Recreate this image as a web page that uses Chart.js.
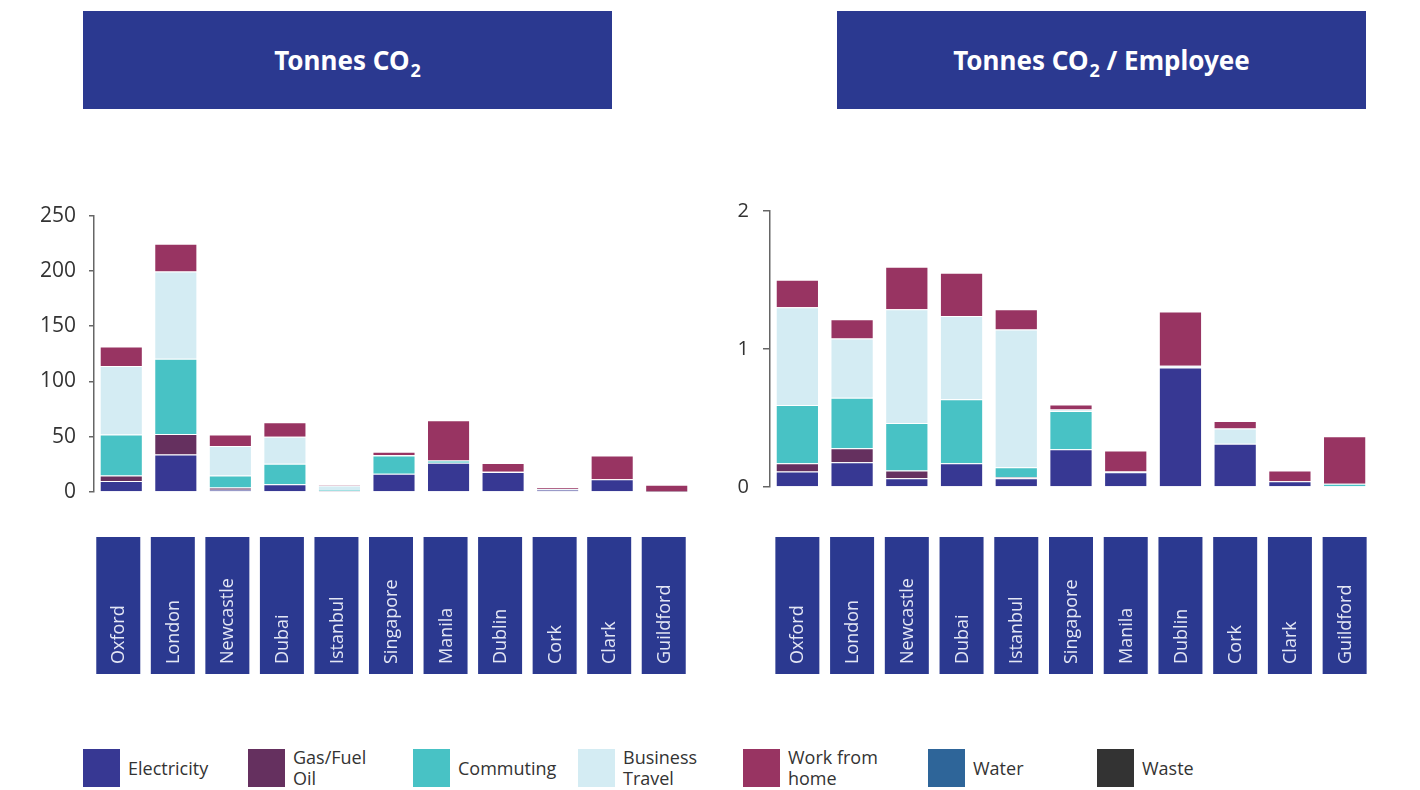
<!DOCTYPE html>
<html>
<head>
<meta charset="utf-8">
<script src="https://cdn.jsdelivr.net/npm/chart.js@4"></script>
<style>
  body { margin: 0; background: #fff; width: 1420px; height: 790px; position: relative; overflow: hidden; font-family: "Open Sans", sans-serif; }
  .title { position: absolute; top: 11px; height: 98px; width: 529px; background: #2B3990; color: #fff;
           font-family: "Noto Sans", sans-serif; font-weight: bold; font-size: 26px; display: flex; align-items: center; justify-content: center; white-space: pre; }
  .title .sub { font-size: 18px; position: relative; top: 10px; margin-left: 1px; }
  canvas { position: absolute; }
  .leg { position: absolute; top: 749px; height: 38px; }
  .leg .sw { position: absolute; left: 0; top: 0; width: 37px; height: 38px; }
  .leg .tx { position: absolute; left: 45px; top: 0; height: 38px; display: flex; align-items: center;
             font-size: 18px; line-height: 21px; color: #333; white-space: nowrap; }
</style>
</head>
<body>
<div class="title" style="left:83px">Tonnes CO<span class="sub">2</span></div>
<div class="title" style="left:837px">Tonnes CO<span class="sub">2</span> / Employee</div>
<canvas id="totalChart" width="710" height="490" style="left:0; top:190px"></canvas>
<canvas id="perEmpChart" width="710" height="490" style="left:710px; top:185px"></canvas>
<div id="legend"></div>
<script>
// Offices (x categories)
const cities = ['Oxford', 'London', 'Newcastle', 'Dubai', 'Istanbul', 'Singapore', 'Manila', 'Dublin', 'Cork', 'Clark', 'Guildford'];

// Emission sources, legend order (stacked bottom -> top)
const sources = ['Electricity', 'Gas/Fuel\nOil', 'Commuting', 'Business\nTravel', 'Work from\nhome', 'Water', 'Waste'];
const sourceColors = ['#373893', '#65305F', '#48C2C5', '#D4ECF3', '#983462', '#2E6599', '#333333'];

// Tonnes CO2 per office
const totElectricity = [10, 34, 2, 7, 0.5, 16.5, 26.5, 18, 2, 11.5, 0];
const totGas         = [5, 18.5, 2, 0, 0.3, 0, 0, 0, 0, 0, 0];
const totCommuting   = [37, 68, 11, 18.5, 1, 16.5, 2, 0, 0, 0, 0.3];
const totBusiness    = [62, 79, 26.5, 24.5, 4, 0.5, 0, 0.3, 0.8, 0, 0];
const totWfh         = [17.5, 25, 10.5, 13, 1, 3, 36.5, 8, 1, 21.5, 6.3];
const totWater       = [0, 0, 0, 0, 0, 0, 0, 0, 0, 0, 0];
const totWaste       = [0, 0, 0, 0, 0, 0, 0, 0, 0, 0, 0];
const totTicks       = [0, 50, 100, 150, 200, 250];

// Tonnes CO2 per employee
const empElectricity = [0.113, 0.18, 0.063, 0.173, 0.063, 0.274, 0.106, 0.866, 0.313, 0.041, 0];
const empGas         = [0.06, 0.1, 0.057, 0, 0.007, 0, 0, 0, 0, 0, 0];
const empCommuting   = [0.421, 0.367, 0.344, 0.462, 0.074, 0.277, 0.007, 0, 0, 0, 0.024];
const empBusiness    = [0.708, 0.429, 0.824, 0.604, 0.997, 0.01, 0, 0.012, 0.111, 0, 0];
const empWfh         = [0.2, 0.139, 0.308, 0.313, 0.147, 0.036, 0.152, 0.393, 0.055, 0.079, 0.344];
const empWater       = [0, 0, 0, 0, 0, 0, 0, 0, 0, 0, 0];
const empWaste       = [0, 0, 0, 0, 0, 0, 0, 0, 0, 0, 0];
const empTicks       = [0, 1, 2];

// legend item left edges (px)
const legendX = [83, 248, 413, 578, 743, 928, 1097];

// draws the dark blue boxes with rotated city names under each bar
const cityBoxes = {
    id: 'cityBoxes',
    afterDraw(chart, args, opts) {
        const { ctx, scales: { x } } = chart;
        ctx.save();
        chart.data.labels.forEach((name, i) => {
            const cx = x.getPixelForValue(i) + opts.shift;
            ctx.fillStyle = '#2B3990';
            ctx.fillRect(cx - 22, opts.top, 44, opts.height);
            ctx.save();
            ctx.translate(cx, opts.top + opts.height - 10);
            ctx.rotate(-Math.PI / 2);
            ctx.fillStyle = '#E3E6F4';
            ctx.font = '18px "Open Sans"';
            ctx.textAlign = 'left';
            ctx.textBaseline = 'middle';
            ctx.fillText(name, 0, 1);
            ctx.restore();
        });
        ctx.restore();
    }
};

function makeChart(id, series, ticks, axisW, pad, tickLen, tickPad, fontSize, boxTop, shift) {
    const ctx = document.getElementById(id).getContext('2d');
    return new Chart(ctx, {
        type: 'bar',
        data: {
            labels: cities,
            datasets: series.map((vals, i) => ({
                label: sources[i].replace('\n', ' '),
                data: vals,
                backgroundColor: sourceColors[i],
                borderColor: 'rgba(255,255,255,0.45)',
                borderWidth: 1,
                barPercentage: 0.79,
                categoryPercentage: 1
            }))
        },
        options: {
            responsive: false,
            animation: false,
            layout: { padding: pad },
            plugins: {
                legend: { display: false },
                tooltip: { enabled: false },
                cityBoxes: { top: boxTop, height: 137, shift: shift }
            },
            scales: {
                x: { stacked: true, display: false },
                y: {
                    stacked: true,
                    min: ticks[0],
                    max: ticks[ticks.length - 1],
                    afterBuildTicks: (axis) => { axis.ticks = ticks.map(v => ({ value: v })); },
                    afterFit: (axis) => { axis.width = axisW; },
                    border: { display: true, color: '#666', width: 1.5 },
                    grid: { drawOnChartArea: false, drawTicks: true, tickLength: tickLen, color: '#666', lineWidth: 1.5 },
                    ticks: {
                        color: '#333',
                        padding: tickPad,
                        font: { family: 'Open Sans', size: fontSize }
                    }
                }
            }
        },
        plugins: [cityBoxes]
    });
}

makeChart('totalChart',
    [totElectricity, totGas, totCommuting, totBusiness, totWfh, totWater, totWaste],
    totTicks, 94, { left: 0, top: 0, right: 16, bottom: 188 }, 5, 13, 21, 347, -3);

makeChart('perEmpChart',
    [empElectricity, empGas, empCommuting, empBusiness, empWfh, empWater, empWaste],
    empTicks, 60, { left: 0, top: 0, right: 48, bottom: 188 }, 7, 14, 20, 352, 0);

// legend
const legend = document.getElementById('legend');
sources.forEach((name, i) => {
    const item = document.createElement('div');
    item.className = 'leg';
    item.style.left = legendX[i] + 'px';
    item.innerHTML = '<div class="sw" style="background:' + sourceColors[i] + '"></div>' +
        '<div class="tx">' + name.replace('\n', '<br>') + '</div>';
    legend.appendChild(item);
});
</script>
</body>
</html>
